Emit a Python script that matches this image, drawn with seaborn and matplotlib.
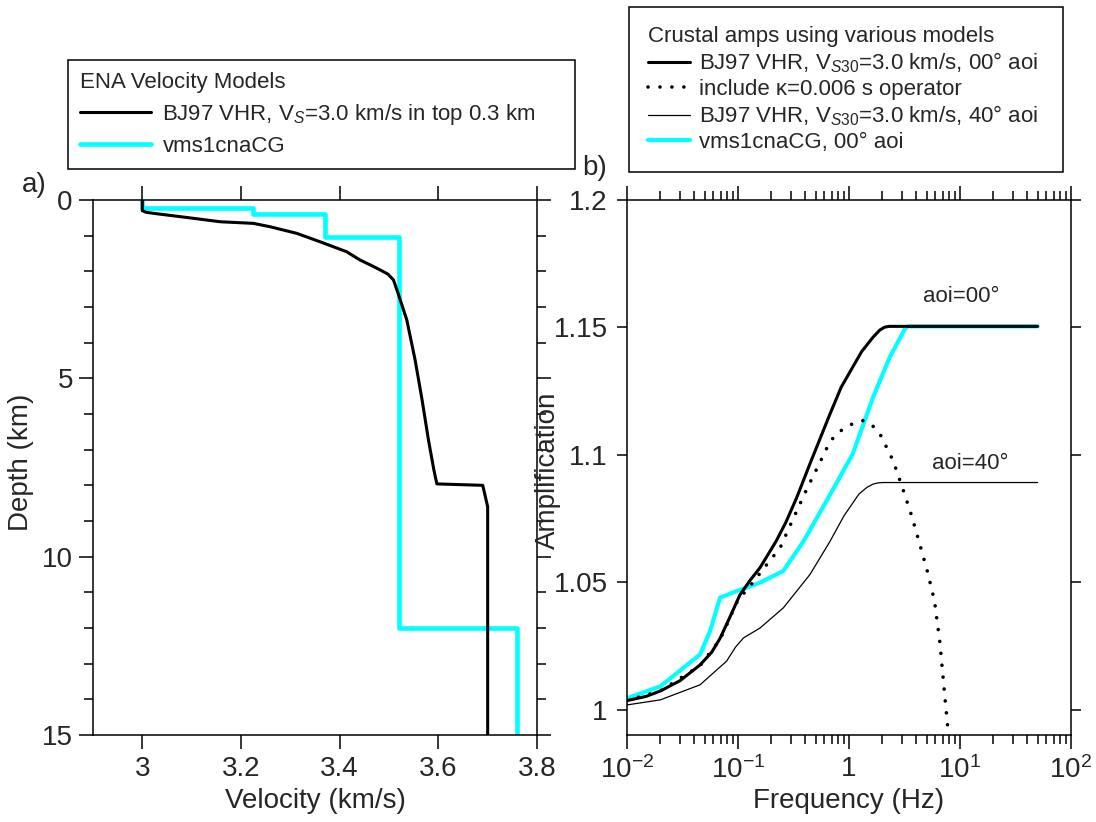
import numpy as np
import matplotlib
matplotlib.use("Agg")
import matplotlib.pyplot as plt
from matplotlib.ticker import MultipleLocator, LogLocator, NullFormatter, FixedLocator, FixedFormatter
import seaborn as sns

# ---- (a) velocity profiles ----
bj97_vel = [3.0, 3.0, 3.008, 3.023, 3.09, 3.158, 3.225, 3.259, 3.313, 3.36, 3.414, 3.441,
            3.465, 3.482, 3.498, 3.509, 3.518, 3.536, 3.553, 3.567, 3.58, 3.591, 3.597,
            3.69, 3.695, 3.70, 3.70]
bj97_depth = [0.0, 0.30, 0.345, 0.375, 0.49, 0.61, 0.655, 0.75, 0.935, 1.17, 1.45, 1.68,
              1.84, 1.96, 2.08, 2.24, 2.6, 3.36, 4.49, 5.6, 6.73, 7.57, 7.96,
              8.0, 8.3, 8.6, 15.0]

vms_layer_top = [0.0, 0.23, 0.40, 1.05, 12.0]
vms_layer_vel = [3.0, 3.225, 3.37, 3.52, 3.76]
max_depth = 15.0

# ---- (b) crustal amplifications ----
f_bj00 = [0.01, 0.015, 0.02, 0.03, 0.0455, 0.058, 0.069, 0.085, 0.104, 0.13, 0.158, 0.22,
          0.27, 0.338, 0.45, 0.674, 0.85, 1.08, 1.3, 1.65, 1.9, 2.1, 2.3, 50]
a_bj00 = [1.0035, 1.0052, 1.0073, 1.0113, 1.0175, 1.0225, 1.028, 1.0365, 1.045, 1.051,
          1.0557, 1.066, 1.0735, 1.0832, 1.097, 1.116, 1.1265, 1.1344, 1.1405, 1.1462,
          1.149, 1.1501, 1.1504, 1.1504]

f_kappa = [0.01, 0.02, 0.0455, 0.069, 0.1, 0.128, 0.194, 0.24, 0.3, 0.416, 0.55, 0.674,
           0.8, 0.95, 1.1, 1.34, 1.6, 1.9, 2.5, 3.1, 3.7, 4.4, 5.1, 5.9, 6.6, 7.3, 8.5]
a_kappa = [1.0035, 1.0073, 1.0172, 1.0275, 1.043, 1.0484, 1.0585, 1.0635, 1.073, 1.0865,
           1.0972, 1.1052, 1.1088, 1.1108, 1.1124, 1.1134, 1.1118, 1.1082, 1.0976, 1.0858,
           1.0755, 1.064, 1.054, 1.0425, 1.026, 1.005, 0.975]

f_bj40 = [0.01, 0.02, 0.0455, 0.079, 0.095, 0.112, 0.158, 0.256, 0.445, 0.674, 0.9, 1.23,
          1.45, 1.65, 1.85, 2.04, 50]
a_bj40 = [1.0018, 1.0038, 1.0097, 1.019, 1.0245, 1.0281, 1.032, 1.0399, 1.053, 1.066,
          1.076, 1.0846, 1.0872, 1.0885, 1.089, 1.0891, 1.0891]

f_vms = [0.01, 0.02, 0.0455, 0.0559, 0.069, 0.0975, 0.158, 0.256, 0.39, 0.63, 1.08, 1.65,
         2.33, 3.2, 3.4, 50]
a_vms = [1.0044, 1.0091, 1.0216, 1.0307, 1.0439, 1.0465, 1.0498, 1.0544, 1.0661, 1.082,
         1.1003, 1.1226, 1.1383, 1.1495, 1.1504, 1.1504]

vel_ticks = [3.0, 3.2, 3.4, 3.6, 3.8]
vel_tick_labels = ["3", "3.2", "3.4", "3.6", "3.8"]
depth_ticks = [0, 5, 10, 15]
amp_ticks = [1.0, 1.05, 1.1, 1.15, 1.2]
amp_tick_labels = ["1", "1.05", "1.1", "1.15", "1.2"]
freq_ticks = [0.01, 0.1, 1, 10, 100]
freq_tick_labels = [r"$\mathregular{10^{-2}}$", r"$\mathregular{10^{-1}}$", "1",
                    r"$\mathregular{10^{1}}$", r"$\mathregular{10^{2}}$"]

sns.set_theme(style="ticks")
plt.rcParams["font.family"] = ["Liberation Sans", "DejaVu Sans"]
plt.rcParams["mathtext.fontset"] = "custom"
plt.rcParams["mathtext.rm"] = "Liberation Sans"
plt.rcParams["mathtext.it"] = "Liberation Sans:italic"
plt.rcParams["axes.linewidth"] = 1.1

TXT = "#262626"
W, H = 1096, 822
fig = plt.figure(figsize=(W / 100, H / 100), dpi=100)
ax_a = fig.add_axes([93 / W, 1 - 735 / H, 444 / W, 535 / H])
ax_b = fig.add_axes([627 / W, 1 - 735 / H, 444 / W, 535 / H])

# step profile from layer tops
tops = vms_layer_top + [max_depth]
vms_depth = np.repeat(tops, 2)[1:-1]
vms_vel = np.repeat(vms_layer_vel, 2)

sns.lineplot(x=vms_vel, y=vms_depth, ax=ax_a, sort=False, estimator=None,
             color="#00FFFF", lw=3.3, label="vms1cnaCG")
sns.lineplot(x=bj97_vel, y=bj97_depth, ax=ax_a, sort=False, estimator=None,
             color="black", lw=2.2, label=r"BJ97 VHR, V$_{S}$=3.0 km/s in top 0.3 km")

ax_a.set_xlim(2.9, 3.8)
ax_a.set_ylim(15, 0)
ax_a.xaxis.set_major_locator(FixedLocator(vel_ticks))
ax_a.xaxis.set_major_formatter(FixedFormatter(vel_tick_labels))
ax_a.yaxis.set_major_locator(FixedLocator(depth_ticks))
ax_a.yaxis.set_minor_locator(MultipleLocator(1))
ax_a.set_xlabel("Velocity (km/s)", fontsize=20, color=TXT)
ax_a.set_ylabel("Depth (km)", fontsize=20, color=TXT)
ax_a.xaxis.set_label_coords(0.5, -0.099)
ax_a.yaxis.set_label_coords(-0.133, 0.51)

# ---- (b) ----
sns.lineplot(x=f_vms, y=a_vms, ax=ax_b, sort=False, estimator=None,
             color="#00FFFF", lw=3.0, label="vms1cnaCG, 00° aoi")
sns.lineplot(x=f_bj40, y=a_bj40, ax=ax_b, sort=False, estimator=None,
             color="black", lw=0.9, label="BJ97 VHR, V$_{S30}$=3.0 km/s, 40° aoi")
sns.lineplot(x=f_kappa, y=a_kappa, ax=ax_b, sort=False, estimator=None,
             color="black", lw=2.6, linestyle=(0, (0.01, 3.3)), dash_capstyle="round",
             label="include κ=0.006 s operator")
sns.lineplot(x=f_bj00, y=a_bj00, ax=ax_b, sort=False, estimator=None,
             color="black", lw=2.2, label="BJ97 VHR, V$_{S30}$=3.0 km/s, 00° aoi")

ax_b.set_xscale("log")
ax_b.set_xlim(0.01, 100)
ax_b.set_ylim(0.99, 1.2)
ax_b.xaxis.set_major_locator(FixedLocator(freq_ticks))
ax_b.xaxis.set_major_formatter(FixedFormatter(freq_tick_labels))
ax_b.xaxis.set_minor_locator(LogLocator(base=10, subs=np.arange(2, 10)))
ax_b.xaxis.set_minor_formatter(NullFormatter())
ax_b.yaxis.set_major_locator(FixedLocator(amp_ticks))
ax_b.yaxis.set_major_formatter(FixedFormatter(amp_tick_labels))
ax_b.set_xlabel("Frequency (Hz)", fontsize=20, color=TXT)
ax_b.set_ylabel("Amplification", fontsize=20, color=TXT)
ax_b.xaxis.set_label_coords(0.5, -0.099)
ax_b.yaxis.set_label_coords(-0.148, 0.495)

ax_b.text(4.6, 1.1622, "aoi=00°", fontsize=16, color=TXT, va="center", ha="left")
ax_b.text(5.6, 1.0965, "aoi=40°", fontsize=16, color=TXT, va="center", ha="left")

for ax in (ax_a, ax_b):
    for sp in ax.spines.values():
        sp.set_visible(True)
        sp.set_color("black")
        sp.set_linewidth(1.1)
    ax.tick_params(which="both", direction="out", top=True, right=True,
                   labeltop=False, labelright=False, color="black", width=1.1)
    ax.tick_params(which="major", length=10, labelsize=20, labelcolor=TXT, pad=5)
    ax.tick_params(which="minor", length=6.5)
ax_a.tick_params(axis="y", which="major", pad=4.5)
ax_b.tick_params(axis="y", which="major", length=7.5, pad=6.5)

# ---- legends ----
h_a, l_a = ax_a.get_legend_handles_labels()
ax_a.get_legend().remove()
order_a = [1, 0]
leg_a = fig.legend([h_a[i] for i in order_a], [l_a[i] for i in order_a],
                   title="ENA Velocity Models", loc="upper left", mode="expand",
                   bbox_to_anchor=(68 / W, 1 - 165 / H, (575 - 68) / W, (165 - 60) / H),
                   borderaxespad=0, fontsize=16, title_fontsize=16, frameon=True,
                   fancybox=False, edgecolor="black", framealpha=1,
                   handlelength=3.2, handletextpad=0.5, labelspacing=0.4,
                   borderpad=0.55)
leg_a._legend_box.align = "left"
leg_a.get_frame().set_linewidth(1.1)

h_b, l_b = ax_b.get_legend_handles_labels()
ax_b.get_legend().remove()
order_b = [3, 2, 1, 0]
leg_b = fig.legend([h_b[i] for i in order_b], [l_b[i] for i in order_b],
                   title="Crustal amps using various models", loc="upper left", mode="expand",
                   bbox_to_anchor=(629 / W, 1 - 168 / H, (1063 - 629) / W, (168 - 7) / H),
                   borderaxespad=0, fontsize=16, title_fontsize=16, frameon=True,
                   fancybox=False, edgecolor="black", framealpha=1,
                   handlelength=1.9, handletextpad=0.4, labelspacing=0.17,
                   borderpad=0.85)
leg_b._legend_box.align = "left"
leg_b.get_frame().set_linewidth(1.1)
for t in leg_a.get_texts() + leg_b.get_texts() + [leg_a.get_title(), leg_b.get_title()]:
    t.set_color(TXT)

fig.text(22 / W, 1 - 185 / H, "a)", fontsize=20, color=TXT, va="center", ha="left")
fig.text(582 / W, 1 - 168 / H, "b)", fontsize=20, color=TXT, va="center", ha="left")

fig.savefig("out.png", dpi=100)
